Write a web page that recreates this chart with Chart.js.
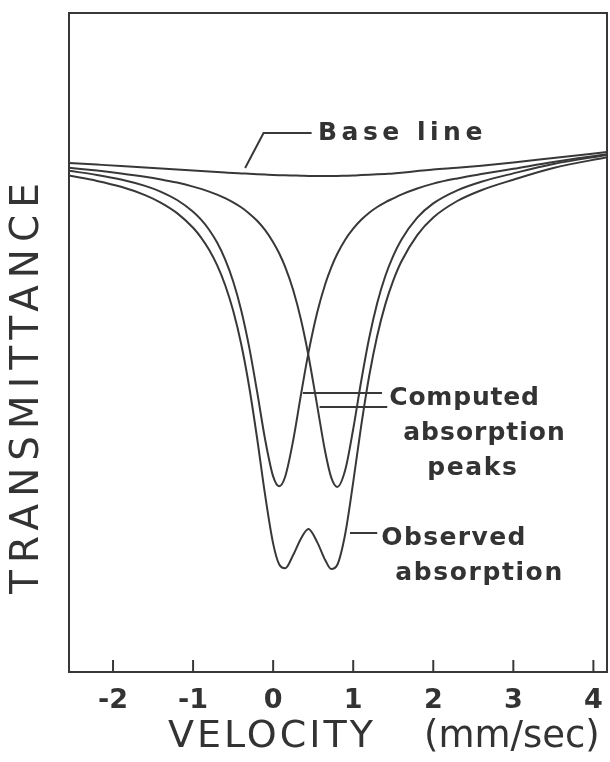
<!DOCTYPE html>
<html>
<head>
<meta charset="utf-8">
<script src="https://cdn.jsdelivr.net/npm/chart.js@4/dist/chart.umd.min.js"></script>
<style>
  html, body { margin: 0; padding: 0; background: #ffffff; }
  #wrap { width: 610px; height: 762px; }
</style>
</head>
<body>
<div id="wrap"><canvas id="c" width="610" height="762"></canvas></div>
<script>
// ---- data (velocity in mm/sec, transmittance in arbitrary units) ----
const velocity = [-2.55, -2.2, -1.9, -1.6, -1.4, -1.2, -1.0, -0.9, -0.8, -0.7, -0.6, -0.5, -0.4, -0.3, -0.2, -0.1,
  0.0, 0.075, 0.15, 0.25, 0.35, 0.44, 0.55, 0.65, 0.725, 0.8, 0.9, 1.0, 1.1, 1.2, 1.3, 1.4, 1.5, 1.6,
  1.8, 2.0, 2.3, 2.6, 3.0, 3.5, 4.17];

const baseLine = [50.90, 50.74, 50.60, 50.45, 50.35, 50.25, 50.15, 50.10, 50.05, 50.00, 49.95, 49.90, 49.86, 49.82, 49.78, 49.74,
  49.70, 49.68, 49.67, 49.65, 49.63, 49.61, 49.60, 49.60, 49.60, 49.61, 49.63, 49.65, 49.69, 49.73, 49.77, 49.81, 49.85, 49.93,
  50.09, 50.25, 50.43, 50.63, 50.95, 51.40, 52.00];

const computedPeak1 = [50.12, 49.71, 49.25, 48.61, 48.02, 47.20, 46.03, 45.23, 44.23, 42.94, 41.27, 39.08, 36.21, 32.51, 28.01, 23.24,
  19.56, 18.58, 19.53, 23.15, 27.86, 31.89, 35.95, 38.78, 40.44, 41.80, 43.23, 44.33, 45.22, 45.93, 46.50, 46.97, 47.36, 47.74,
  48.35, 48.84, 49.36, 49.79, 50.32, 51.00, 51.78];

const computedPeak2 = [50.42, 50.14, 49.86, 49.53, 49.26, 48.94, 48.54, 48.31, 48.04, 47.74, 47.38, 46.96, 46.47, 45.86, 45.12, 44.18,
  42.98, 41.87, 40.51, 38.20, 35.15, 31.68, 26.64, 22.02, 19.46, 18.51, 20.20, 24.30, 29.10, 33.42, 36.90, 39.58, 41.62, 43.21,
  45.43, 46.86, 48.17, 49.02, 49.86, 50.80, 51.70];

const observed = [49.64, 49.11, 48.52, 47.69, 46.92, 45.89, 44.42, 43.44, 42.22, 40.68, 38.70, 36.14, 32.82, 28.55, 23.35, 17.68,
  12.84, 10.77, 10.37, 11.70, 13.38, 14.30, 12.99, 11.20, 10.30, 10.70, 13.80, 18.98, 24.63, 29.62, 33.63, 36.74, 39.13, 41.02,
  43.69, 45.45, 47.10, 48.18, 49.23, 50.40, 51.48];

const xTickValues = [-2, -1, 0, 1, 2, 3, 4];
const xTickLabels = ['-2', '-1', '0', '1', '2', '3', '4'];

const xTitleParts = ['VELOCITY', '(mm/sec)'];
const yTitle = 'TRANSMITTANCE';
const notes = {
  base: ['Base line'],
  computed: ['Computed', 'absorption', 'peaks'],
  observed: ['Observed', 'absorption']
};

// ---- styling ----
const INK = '#333333';
const FONT = '"DejaVu Sans", "Liberation Sans", sans-serif';

const pts = arr => velocity.map((v, i) => ({ x: v, y: arr[i] }));
const lineDs = (label, arr) => ({
  label, data: pts(arr), borderColor: '#383838', borderWidth: 2, pointRadius: 0,
  cubicInterpolationMode: 'monotone', fill: false
});

const decor = {
  id: 'decor',
  afterDraw(chart) {
    const { ctx, chartArea: a, scales: { x, y } } = chart;
    const P = (vx, vy) => [x.getPixelForValue(vx), y.getPixelForValue(vy)];
    ctx.save();
    ctx.strokeStyle = '#383838';
    ctx.fillStyle = INK;
    ctx.lineWidth = 2;
    ctx.lineCap = 'butt';

    // frame
    ctx.strokeRect(a.left, a.top, a.right - a.left, a.bottom - a.top);

    // inward tick marks
    x.ticks.forEach(t => {
      const px = x.getPixelForValue(t.value);
      ctx.beginPath();
      ctx.moveTo(px, a.bottom);
      ctx.lineTo(px, a.bottom - 12);
      ctx.stroke();
    });

    // leader lines
    const seg = (pairs) => {
      ctx.beginPath();
      pairs.forEach((p, i) => { const [px, py] = P(p[0], p[1]); i ? ctx.lineTo(px, py) : ctx.moveTo(px, py); });
      ctx.stroke();
    };
    seg([[-0.35, 50.4], [-0.12, 53.9], [0.48, 53.9]]);
    seg([[0.37, 27.9], [1.36, 27.9]]);
    seg([[0.58, 26.5], [1.425, 26.5]]);
    seg([[0.96, 13.9], [1.3, 13.9]]);

    // annotation texts
    ctx.textBaseline = 'middle';
    ctx.textAlign = 'left';
    ctx.font = 'bold 25px ' + FONT;
    const txt = (s, vx, vy, ls) => { ctx.letterSpacing = ls + 'px'; const [px, py] = P(vx, vy); ctx.fillText(s, px, py); };
    txt(notes.base[0], 0.56, 53.9, 4.5);
    txt(notes.computed[0], 1.45, 27.4, 0.8);
    txt(notes.computed[1], 1.625, 23.9, 1);
    txt(notes.computed[2], 1.925, 20.4, 1.6);
    txt(notes.observed[0], 1.35, 13.4, 1.4);
    txt(notes.observed[1], 1.525, 9.9, 1.6);

    // x-axis title
    ctx.font = '38px ' + FONT;
    ctx.letterSpacing = '3px';
    ctx.fillText(xTitleParts[0], 168, 737);
    ctx.font = '37px ' + FONT;
    ctx.letterSpacing = '0px';
    ctx.fillText(xTitleParts[1], 424, 737);

    // y-axis title
    ctx.translate(28, 385);
    ctx.rotate(-Math.PI / 2);
    ctx.textAlign = 'center';
    ctx.font = '39px ' + FONT;
    ctx.letterSpacing = '7px';
    ctx.fillText(yTitle, 0, 0);
    ctx.restore();
  }
};

new Chart(document.getElementById('c'), {
  type: 'line',
  data: {
    datasets: [
      lineDs('Base line', baseLine),
      lineDs('Computed peak 1', computedPeak1),
      lineDs('Computed peak 2', computedPeak2),
      lineDs('Observed absorption', observed)
    ]
  },
  options: {
    responsive: false,
    animation: false,
    devicePixelRatio: 1,
    layout: { padding: { left: 69, top: 13, right: 3, bottom: 0 } },
    plugins: { legend: { display: false }, tooltip: { enabled: false } },
    scales: {
      x: {
        type: 'linear', min: -2.55, max: 4.17,
        grid: { display: false }, border: { display: false },
        afterBuildTicks: s => { s.ticks = xTickValues.map(v => ({ value: v })); },
        afterFit: s => { s.height = 90; },
        ticks: {
          autoSkip: false, maxRotation: 0, padding: 5, color: INK,
          font: { family: FONT, size: 27, weight: 'bold' },
          callback: v => { const i = xTickValues.indexOf(v); return i >= 0 ? xTickLabels[i] : ''; }
        }
      },
      y: { display: false, min: 0, max: 65.9 }
    }
  },
  plugins: [decor]
});
</script>
</body>
</html>
